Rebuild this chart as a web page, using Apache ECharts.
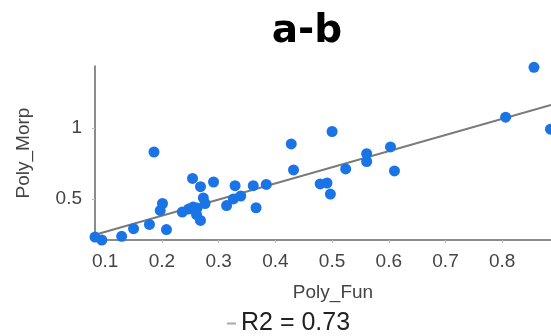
<!DOCTYPE html>
<html>
<head>
<meta charset="utf-8">
<script src="https://cdn.jsdelivr.net/npm/echarts@6/dist/echarts.min.js"></script>
<style>
  html, body { margin: 0; padding: 0; background: #fff; }
  #chart { width: 551px; height: 336px; }
</style>
</head>
<body>
<div id="chart"></div>
<script>
// Poly_Fun values
const polyFun = [0.082, 0.094, 0.129, 0.150, 0.178, 0.208, 0.186, 0.197, 0.201, 0.236,
  0.247, 0.255, 0.262, 0.261, 0.268, 0.273, 0.276, 0.254, 0.268, 0.291,
  0.314, 0.329, 0.326, 0.339, 0.361, 0.366, 0.384, 0.428, 0.432, 0.500,
  0.479, 0.491, 0.497, 0.524, 0.561, 0.561, 0.603, 0.610, 0.806, 0.856, 0.885];
// Poly_Morp values
const polyMorp = [0.231, 0.210, 0.236, 0.290, 0.320, 0.284, 0.832, 0.419, 0.468, 0.408,
  0.429, 0.443, 0.436, 0.390, 0.348, 0.507, 0.468, 0.645, 0.587, 0.620,
  0.453, 0.594, 0.500, 0.521, 0.594, 0.438, 0.603, 0.889, 0.705, 0.977,
  0.606, 0.613, 0.535, 0.712, 0.820, 0.765, 0.868, 0.698, 1.078, 1.431, 0.993];
// fitted line end points
const fitX = [0.082, 0.886];
const fitY = [0.247, 1.164];
const xTicks = [0.1, 0.2, 0.3, 0.4, 0.5, 0.6, 0.7, 0.8];
const yTicks = [0.5, 1];

const points = polyFun.map((x, i) => [x, polyMorp[i]]);
const fitLine = fitX.map((x, i) => [x, fitY[i]]);

const myChart = echarts.init(document.getElementById('chart'));
const option = {
  animation: false,
  title: {
    text: 'a-b',
    left: 302,
    top: 7,
    textAlign: 'center',
    textStyle: { fontFamily: 'DejaVu Sans', fontWeight: 'bold', fontSize: 39, color: '#000' }
  },
  legend: {
    data: [{ name: 'R2 = 0.73', icon: 'rect' }],
    left: 222,
    top: 306,
    itemWidth: 9,
    itemHeight: 2,
    itemGap: 4,
    textStyle: { fontFamily: 'Liberation Sans', fontSize: 25, color: '#222' }
  },
  grid: { left: 95, right: 0, top: 66, bottom: 96 },
  xAxis: {
    type: 'value',
    min: 0.082,
    max: 0.886,
    name: 'Poly_Fun',
    nameLocation: 'middle',
    nameGap: 43,
    nameTextStyle: { fontFamily: 'Liberation Sans', fontSize: 19, color: '#444', padding: [0, 0, 0, 20] },
    splitLine: { show: false },
    axisLine: { lineStyle: { color: '#666', width: 1.5 } },
    axisTick: { show: true, customValues: xTicks, length: 3, lineStyle: { color: '#bbb' } },
    axisLabel: {
      customValues: xTicks,
      margin: 12,
      fontFamily: 'Liberation Sans', fontSize: 19, color: '#444',
      formatter: v => String(v)
    }
  },
  yAxis: {
    type: 'value',
    min: 0.21,
    max: 1.44,
    name: 'Poly_Morp',
    nameLocation: 'middle',
    nameGap: 62,
    nameTextStyle: { fontFamily: 'Liberation Sans', fontSize: 19, color: '#444' },
    splitLine: { show: false },
    axisLine: { show: true, lineStyle: { color: '#666', width: 1.5 } },
    axisTick: { show: true, customValues: yTicks, length: 3, lineStyle: { color: '#bbb' } },
    axisLabel: {
      customValues: yTicks,
      margin: 13,
      fontFamily: 'Liberation Sans', fontSize: 19, color: '#444',
      formatter: v => String(v)
    }
  },
  series: [
    {
      name: 'R2 = 0.73',
      type: 'line',
      data: fitLine,
      showSymbol: false,
      z: 1,
      lineStyle: { color: '#7a7a7a', width: 2 },
      itemStyle: { color: '#aaa' }
    },
    {
      name: 'data',
      type: 'scatter',
      data: points,
      symbolSize: 11,
      z: 2,
      itemStyle: { color: '#1a74e6', opacity: 1 }
    }
  ]
};
option && myChart.setOption(option);
</script>
</body>
</html>
